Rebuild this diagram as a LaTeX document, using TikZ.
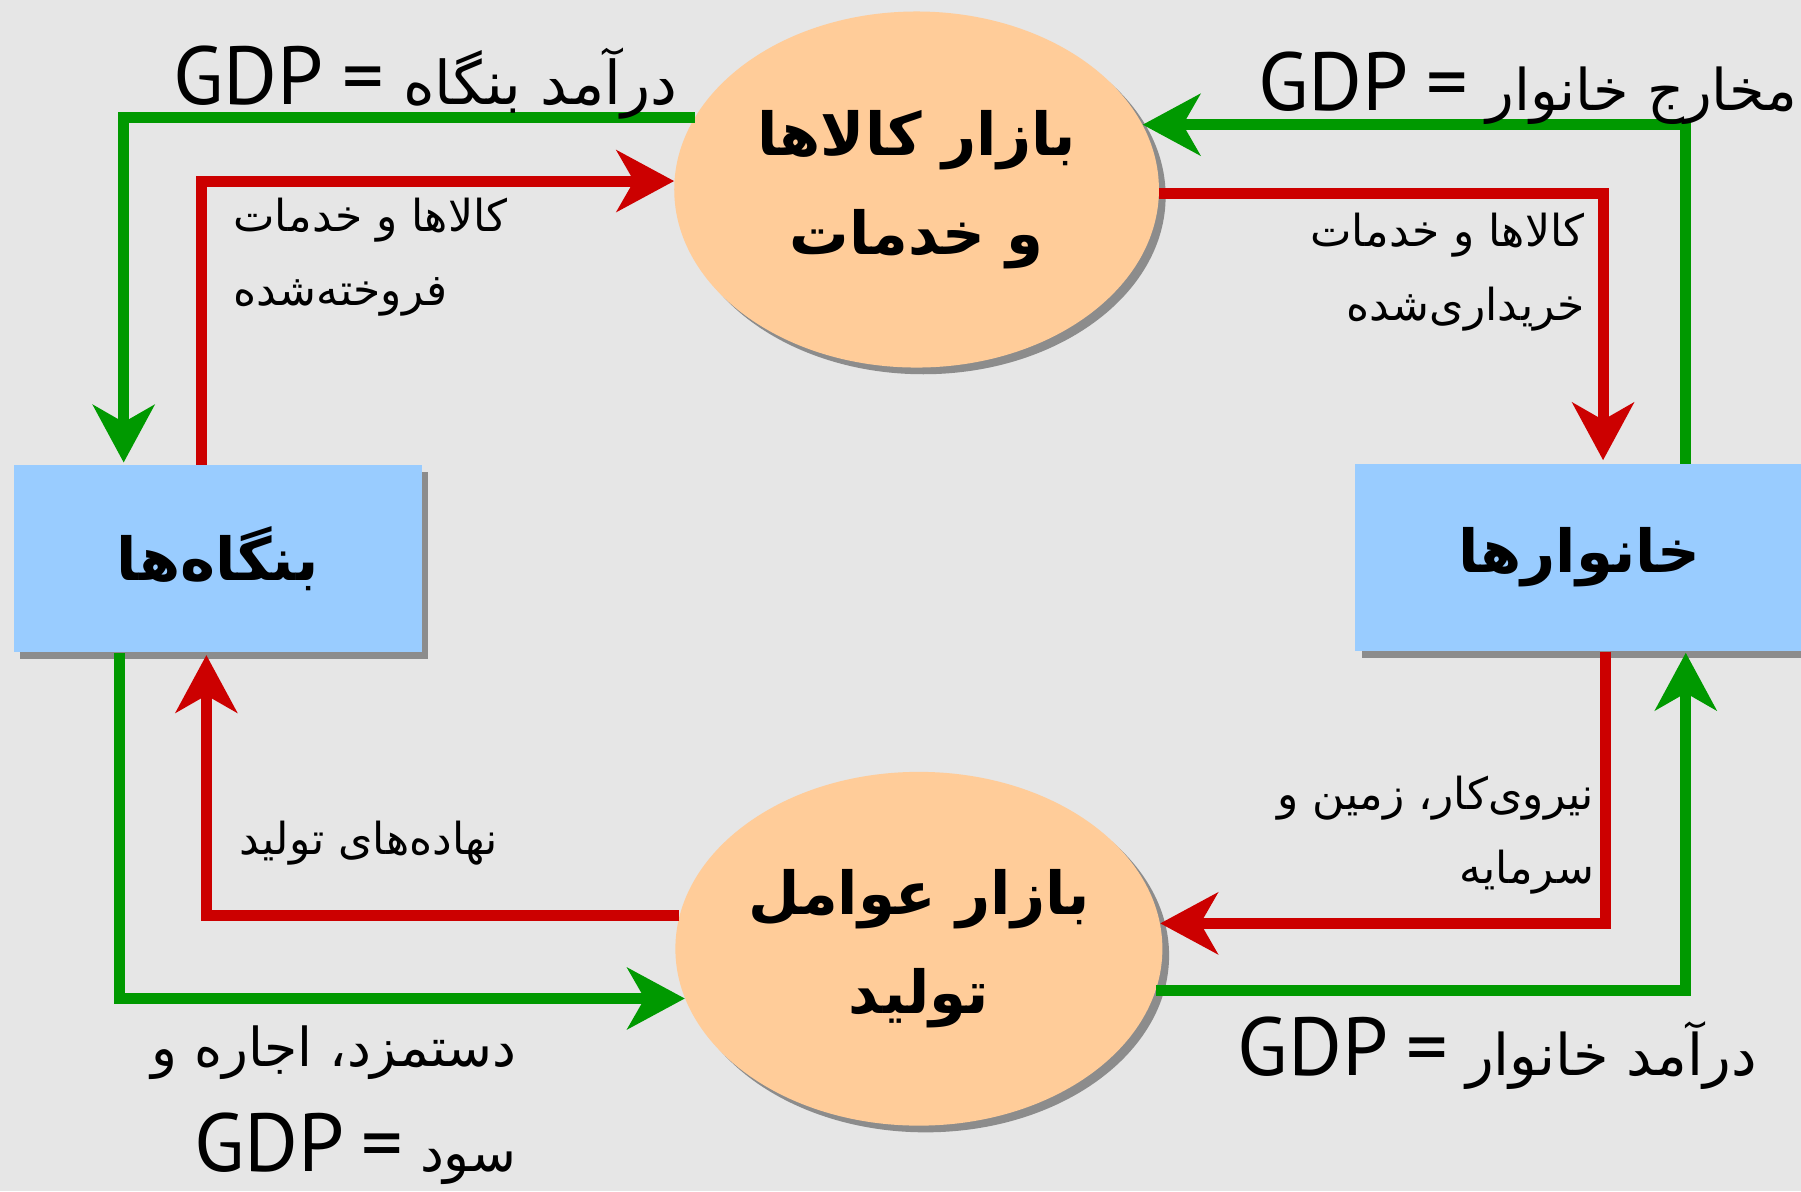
\documentclass[tikz,border=0pt]{standalone}
\usepackage{fontspec}
\newfontfamily\fa[Script=Arabic]{DejaVu Sans}
\newfontfamily\la{PT Sans}
\TeXXeTstate=1
\usetikzlibrary{shapes.geometric,arrows.meta,shadows,calc}
\definecolor{bgc}{HTML}{E6E6E6}
\definecolor{peach}{HTML}{FFCC99}
\definecolor{skyb}{HTML}{99CCFF}
\definecolor{gflow}{HTML}{009900}
\definecolor{rflow}{HTML}{CC0000}
\newcommand\rtl[1]{\beginR#1\endR}
\newcommand\gdp{\beginL{\la\fontsize{43}{50}\selectfont GDP}\endL}
\newcommand\eqs{{\la\fontsize{43}{50}\selectfont =}}
\newcommand\fasz[1]{\fa\fontsize{#1}{55}\selectfont}
\newcommand\fasm{\fa\fontsize{23}{39}\selectfont}
\newcommand\fabold{\fa\bfseries\fontsize{31}{52}\selectfont}
\begin{document}
\begin{tikzpicture}[x=0.6pt,y=-0.6pt,
  shad/.style={drop shadow={shadow xshift=3.5pt,shadow yshift=-3.5pt,opacity=0.5,fill=black!80}},
  market/.style={ellipse,fill=peach,shad,inner sep=0pt,align=center,font=\fabold},
  agent/.style={rectangle,fill=skyb,shad,inner sep=0pt,font=\fabold},
  flow/.style={line width=5.8pt,-{Stealth[length=30pt,width=32pt,inset=9pt]}},
  gf/.style={flow,draw=gflow},
  rf/.style={flow,draw=rflow},
  lbl/.style={inner sep=0pt,text=black}]
\fill[bgc] (0,0) rectangle (1568,1037);
\useasboundingbox (0,0) rectangle (1568,1037);
\clip (0,0) rectangle (1568,1037);

\node[market,minimum width=253.2pt,minimum height=186pt] (gm) at (798,165)
  {\rtl{بازار کالاها}\\\rtl{و خدمات}};
\node[market,minimum width=254.4pt,minimum height=184.8pt] (fm) at (800,826)
  {\rtl{بازار عوامل}\\\rtl{تولید}};
\node[agent,minimum width=213pt,minimum height=97.8pt] (firms) at (189.5,486.5)
  {\rtl{بنگاه^^^^200cها}};
\node[agent,minimum width=234pt,minimum height=97.8pt] (hh) at (1375,485.5)
  {\rtl{خانوارها}};

% flows
\draw[gf] (gm.162) -| ($(firms.north west)+(96,-2)$);
\draw[rf] ($(firms.north west)+(164,0)$) |- (gm.178);
\draw[gf] ($(hh.north west)+(288,0)$) |- (gm.16);
\draw[rf] (gm.359) -| ($(hh.north west)+(216,-3)$);
\draw[rf] ($(hh.south west)+(218,0)$) |- (fm.6);
\draw[gf] (fm.350) -| ($(hh.south west)+(288,1)$);
\draw[rf] (fm.172) -| ($(firms.south west)+(168,2)$);
\draw[gf] ($(firms.south west)+(92,0)$) |- (fm.192);

% labels
\node[lbl,font=\fasz{31.5},anchor=east] (la) at (590,72) {\rtl{درآمد بنگاه \eqs{} \gdp}};
\node[lbl,font=\fasz{30},anchor=east] (lb) at (1565,77) {\rtl{مخارج خانوار \eqs{} \gdp}};
\node[lbl,anchor=west,align=left,font=\fasm] (lc) at (203,224) {\rtl{کالاها و خدمات}\\\rtl{فروخته^^^^200cشده}};
\node[lbl,anchor=east,align=right,font=\fasm] (ld) at (1380,237) {\rtl{کالاها و خدمات}\\\rtl{خریداری^^^^200cشده}};
\node[lbl,anchor=east,align=right,font=\fasm] (le) at (1388,727) {\rtl{نیروی^^^^200cکار، زمین و}\\\rtl{سرمایه}};
\node[lbl,font=\fasz{30},anchor=east] (lf) at (1530,917) {\rtl{درآمد خانوار \eqs{} \gdp}};
\node[lbl,font=\fasm] (lg) at (321,734) {\rtl{نهاده^^^^200cهای تولید}};
\node[lbl,anchor=east,align=right,font=\fasz{28}] (lh) at (450,962) {\rtl{دستمزد، اجاره و}\\\rtl{سود \eqs{} \gdp}};
\end{tikzpicture}
\end{document}
